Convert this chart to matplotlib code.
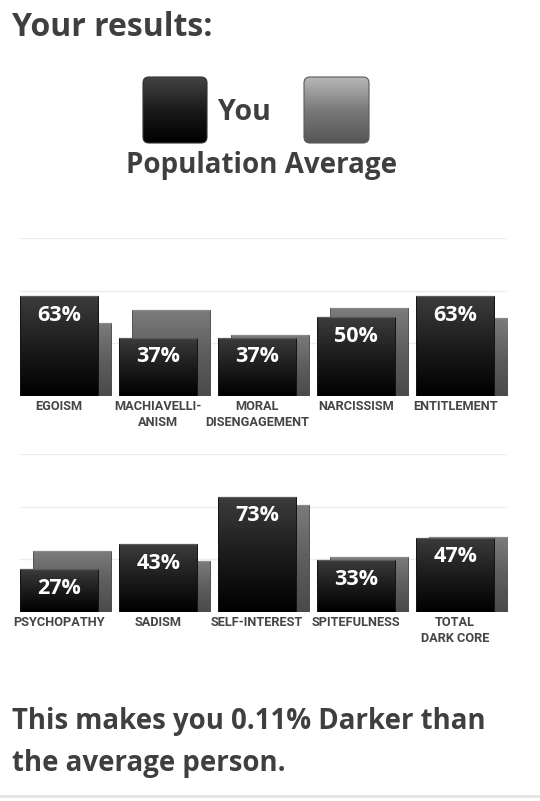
import numpy as np
import matplotlib
matplotlib.use("Agg")
import matplotlib.pyplot as plt
from matplotlib import font_manager as fm
from matplotlib.colors import LinearSegmentedColormap
from matplotlib.patches import FancyBboxPatch

# ---- data -------------------------------------------------------------
labels_top = ["EGOISM", "MACHIAVELLI-\nANISM", "MORAL\nDISENGAGEMENT", "NARCISSISM", "ENTITLEMENT"]
you_top = [63, 37, 37, 50, 63]
avg_top = [46.4, 54.7, 38.9, 55.5, 49.6]

labels_bot = ["PSYCHOPATHY", "SADISM", "SELF-INTEREST", "SPITEFULNESS", "TOTAL\nDARK CORE"]
you_bot = [27, 43, 73, 33, 47]
avg_bot = [38.4, 32.1, 68.0, 34.6, 47.3]

GRID_TICKS = [100 / 3, 200 / 3, 100]

# ---- fonts --------------------------------------------------------------
names = {f.name for f in fm.fontManager.ttflist}
MAIN = "Open Sans" if "Open Sans" in names else "DejaVu Sans"
CAPF = "Roboto" if "Roboto" in names else "DejaVu Sans"
TXT = "#3f3f3f"

W, H = 540, 801
fig = plt.figure(figsize=(W / 100, H / 100), dpi=100)
fig.patch.set_facecolor("white")

you_cmap = LinearSegmentedColormap.from_list("you", ["#3c3c3c", "#1c1c1c", "#000000"])
avg_cmap = LinearSegmentedColormap.from_list("avg", ["#7c7c7c", "#5e5e5e", "#4a4a4a"])
grad = np.linspace(0, 1, 256).reshape(-1, 1)


def px_axes(left, top, right, bottom):
    return fig.add_axes([left / W, 1 - bottom / H, (right - left) / W, (bottom - top) / H])


def gradient_fill(ax, patch, cmap, z):
    x0, y0 = patch.get_x(), patch.get_y()
    w, h = patch.get_width(), patch.get_height()
    im = ax.imshow(grad, cmap=cmap, aspect="auto", extent=(x0, x0 + w, y0, y0 + h),
                   origin="upper", zorder=z, interpolation="bilinear")
    im.set_clip_path(patch)


def draw_panel(ax, labels, you, avg):
    n = len(labels)
    x = np.arange(n)
    bw, off = 0.79, 0.128
    b_avg = ax.bar(x + off, avg, width=bw, align="edge", color="none",
                   edgecolor="#505050", linewidth=0.6, zorder=2)
    b_you = ax.bar(x, you, width=bw, align="edge", color="none",
                   edgecolor="#151515", linewidth=0.7, zorder=4)
    for p in b_avg:
        gradient_fill(ax, p, avg_cmap, 1.5)
    for p in b_you:
        gradient_fill(ax, p, you_cmap, 3.5)
    # light top edges
    ax.hlines(avg, x + off, x + off + bw, color="#8a8a8a", lw=0.9, zorder=2.2)
    ax.hlines(you, x, x + bw, color="#5a5a5a", lw=0.9, zorder=4.2)
    for xi, v in zip(x, you):
        ax.text(xi + bw / 2, v - 5.5, f"{v}%", ha="center", va="top", color="white",
                fontsize=15.5, fontweight="bold", family=MAIN, zorder=6)
    for xi, lab in zip(x, labels):
        ax.text(xi + bw / 2, -2.8, lab, ha="center", va="top", color="#454545",
                family=CAPF, fontweight="bold", fontsize=9.2, linespacing=1.3,
                zorder=6)
    for g in GRID_TICKS:
        ax.axhline(g, color="#ececec", lw=1.0, zorder=0)
    ax.set_xlim(0, n - 1 + off + bw)
    ax.set_ylim(0, 100)
    ax.axis("off")


ax1 = px_axes(20, 238, 507, 396)
draw_panel(ax1, labels_top, you_top, avg_top)
ax2 = px_axes(20, 454, 507, 612)
draw_panel(ax2, labels_bot, you_bot, avg_bot)

# ---- overlay in pixel coordinates ---------------------------------------
ov = fig.add_axes([0, 0, 1, 1], zorder=-1)
ov.set_xlim(0, W)
ov.set_ylim(H, 0)
ov.axis("off")

ov.text(12, 27, "Your results:", ha="left", va="center", fontsize=23,
        fontweight="bold", color=TXT, family=MAIN)

leg_you = FancyBboxPatch((143, 77), 64, 66, boxstyle="round,pad=0,rounding_size=6",
                         fc="none", ec="#333333", lw=0.8)
leg_avg = FancyBboxPatch((304, 77), 65, 66, boxstyle="round,pad=0,rounding_size=6",
                         fc="none", ec="#5a5a5a", lw=0.8)
ov.add_patch(leg_you)
ov.add_patch(leg_avg)
leg_you_cmap = LinearSegmentedColormap.from_list("ly", ["#444444", "#1a1a1a", "#000000"])
leg_avg_cmap = LinearSegmentedColormap.from_list("la", ["#b8b8b8", "#7a7a7a", "#555555"])
for patch, cm in ((leg_you, leg_you_cmap), (leg_avg, leg_avg_cmap)):
    im = ov.imshow(grad, cmap=cm, aspect="auto",
                   extent=(patch.get_x(), patch.get_x() + patch.get_width(),
                           patch.get_y() + patch.get_height(), patch.get_y()),
                   origin="upper", zorder=0.5)
    im.set_clip_path(patch)
ov.set_xlim(0, W)
ov.set_ylim(H, 0)

ov.text(218, 112, "You", ha="left", va="center", fontsize=20.5, fontweight="bold",
        color=TXT, family=MAIN)
ov.text(262, 166, "Population Average", ha="center", va="center", fontsize=20,
        fontweight="bold", color=TXT, family=MAIN)

ov.text(12, 722, "This makes you 0.11% Darker than", ha="left", va="center",
        fontsize=19.9, fontweight="bold", color=TXT, family=MAIN)
ov.text(12, 763, "the average person.", ha="left", va="center",
        fontsize=19.9, fontweight="bold", color=TXT, family=MAIN)
ov.axhline(796, color="#e3e3e3", lw=2)

fig.savefig("out.png", dpi=100, facecolor="white")
